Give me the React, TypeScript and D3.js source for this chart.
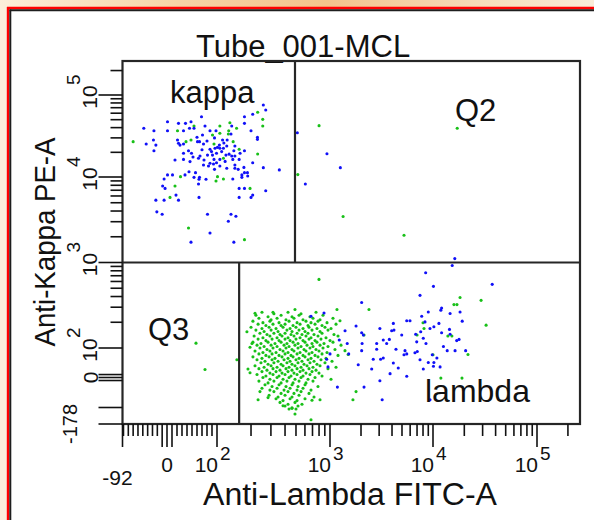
import React from "react";
import * as d3 from "d3";

const WIDTH = 594;
const HEIGHT = 520;
const FONT = "'Liberation Sans', Arial, Helvetica, sans-serif";

const TITLE = "Tube_001-MCL";
const X_LABEL = "Anti-Lambda FITC-A";
const Y_LABEL = "Anti-Kappa PE-A";

// Channel range of the biexponential display
const X_MIN = -92;
const Y_MIN = -178;
const CH_MAX = 262144;

// Quadrant gate
const GATE_PE = 1000;
const GATE_FITC_UPPER = 490;
const GATE_FITC_LOWER = 157;

// Events: [FITC, PE]
const kappaBlue: [number, number][] = [
  [257, 75500], [270, 65600], [207, 58200], [69, 54400], [175, 54400], [1, 47200], [23, 45100], [37, 45100],
  [48, 47200], [175, 45100], [76, 41900], [135, 41900], [-48, 39300], [-27, 36700], [1, 36700], [33, 36700],
  [45, 39300], [54, 39300], [86, 36700], [98, 36700], [200, 36700], [71, 32500], [133, 33400], [228, 30500],
  [228, 28800], [-28, 28300], [21, 28300], [61, 27000], [65, 27000], [112, 28300], [123, 28300], [-43, 25300],
  [-23, 24500], [23, 25800], [26, 24500], [33, 25300], [73, 25300], [105, 24500], [101, 23000], [122, 23900],
  [144, 23900], [86, 21800], [96, 22400], [106, 22400], [114, 22400], [-27, 20900], [43, 20900], [49, 19500],
  [89, 20400], [110, 20400], [141, 20900], [175, 20900], [33, 19500], [66, 18000], [81, 18500], [91, 18500],
  [99, 19500], [120, 18500], [135, 18000], [144, 18000], [16, 16100], [33, 16400], [46, 15400], [63, 16900],
  [74, 16100], [94, 16400], [106, 16400], [138, 16400], [157, 16400], [99, 14900], [86, 14700], [93, 14400],
  [73, 14000], [83, 13600], [144, 14000], [144, 12800], [154, 12400], [173, 13100], [207, 14900], [257, 13000],
  [356, 12200], [106, 13600], [44, 11600], [57, 11300], [95, 12400], [122, 12800], [175, 11300], [186, 11300],
  [187, 10300], [166, 10600], [166, 9900], [54, 9900], [65, 9900], [64, 9400], [78, 9400], [1, 10600],
  [11, 10600], [-6, 9460], [36, 10600], [138, 9460], [63, 8280], [-9, 7840], [-4, 7360], [157, 7360],
  [175, 7360], [270, 6900], [18, 6140], [64, 5770], [157, 5770], [207, 6140], [200, 5770], [-23, 5360],
  [-6, 5360], [23, 5360], [-21, 3910], [-10, 3670], [81, 3670], [133, 3670], [147, 3480], [126, 3040],
  [86, 2210], [48, 1730], [141, 1730], [60, 30500], [80, 27500], [115, 26000], [95, 30000], [128, 19000],
  [70, 21500], [52, 17500], [118, 15500], [160, 19500],
];

const kappaGreen: [number, number][] = [
  [229, 61500], [254, 50500], [130, 45900], [54, 41900], [106, 41900], [254, 41900], [149, 39300], [21, 36700],
  [127, 36700], [91, 32500], [106, 34100], [126, 33400], [-70, 27000], [38, 27000], [48, 28300], [139, 27000],
  [94, 25300], [157, 21800], [229, 19100], [114, 16900], [27, 10100], [101, 10100], [114, 9460], [98, 8980],
  [16, 7840], [196, 7360], [6, 5770], [43, 2530], [175, 1850],
];

const q2Blue: [number, number][] = [[514, 34700], [940, 19200], [1260, 13000], [605, 8280], [16200, 1110]];
const q2Green: [number, number][] = [[800, 42300], [519, 10700], [1340, 3450], [5230, 2080], [17100, 39300]];
const q3Green: [number, number][] = [[58, 114], [76, 27]];

const lambdaBlue: [number, number][] = [
  [15300, 923], [8490, 759], [10100, 526], [37100, 555], [7480, 413], [2030, 340], [12100, 294], [11900, 277],
  [9000, 264], [14600, 253], [18200, 264], [885, 257], [679, 235], [7770, 235], [5560, 208], [5980, 208],
  [8360, 202], [4120, 194], [11400, 194], [10200, 177], [9350, 169], [19100, 206], [1790, 181], [1400, 159],
  [3050, 169], [3970, 159], [4180, 162], [2030, 151], [2110, 142], [7600, 155], [12100, 151], [14400, 165],
  [14600, 145], [1230, 124], [3290, 124], [3770, 126], [4970, 142], [6790, 145], [8050, 130], [17800, 126],
  [16900, 122], [1470, 113], [2050, 113], [2840, 113], [3550, 113], [6950, 118], [8550, 113], [12600, 104],
  [13700, 91], [2030, 91], [2840, 96], [4370, 96], [5350, 91], [6680, 84], [7040, 88], [9840, 77],
  [16300, 91], [20600, 91], [1000, 80], [1520, 80], [2630, 62], [3100, 62], [3290, 66], [5230, 77],
  [5560, 80], [7480, 60], [10900, 66], [9000, 51], [10200, 51], [935, 62], [1880, 43], [2540, 29],
  [4120, 49], [4600, 32], [8050, 29], [11700, 36], [960, 36], [3050, -11], [5560, 4], [3830, 13],
  [10100, 38], [2140, -32], [1180, -32], [3210, -74], [9350, -74],
];

const lambdaGreen: [number, number][] = [
  [799, 634], [217, 255], [313, 262], [490, 282], [1169, 282], [2390, 282], [1250, 208], [184, 155],
  [150, 60], [1500, 78], [1398, 91], [1790, -47], [1670, -74], [679, -158], [490, -131], [461, -104],
  [384, -94], [231, -74], [240, -47], [283, -67], [816, -74], [693, -76], [188, 29], [196, 16],
  [204, 113], [196, 102], [18200, 389], [15900, 322], [17000, 322], [29000, 361], [32400, 185], [8000, 197],
  [8180, 169], [7000, 142], [13900, 138], [15200, 138], [21700, 78], [10000, 77], [11900, -2], [19000, -2],
  [2140, 142],
];

// Dense lambda core, listed by PE level: [PE, FITC values]
const lambdaCoreRows: [number, number[]][] = [
  [262, [250, 425, 752]], [252, [319, 554]],
  [242, [221, 369, 532, 867]], [232, [283, 461, 665]],
  [223, [235, 340, 480, 707, 1069]], [214, [301, 408, 577, 816]],
  [206, [208, 294, 434, 613, 783]], [198, [255, 354, 511, 679, 941]],
  [190, [231, 313, 400, 543, 737, 1144]], [183, [271, 369, 471, 639, 850]],
  [175, [200, 289, 384, 500, 652, 903]], [169, [250, 333, 443, 577, 767, 1023]],
  [162, [221, 301, 416, 532, 693, 960]], [156, [261, 347, 461, 601, 816]],
  [149, [240, 319, 400, 511, 639, 850]], [144, [277, 361, 452, 565, 722, 1093]],
  [138, [213, 294, 376, 480, 613, 783, 1196]], [132, [255, 340, 425, 543, 679, 922]],
  [127, [231, 307, 400, 500, 652, 832]], [122, [271, 354, 443, 577, 737, 1000]],
  [117, [208, 283, 369, 471, 601, 767, 1069]], [113, [245, 326, 416, 521, 693, 885]],
  [108, [226, 301, 392, 490, 626, 816, 1279]], [104, [261, 340, 434, 554, 707, 960]],
  [100, [240, 313, 408, 521, 665, 867]], [95, [277, 361, 461, 589, 752, 1118]],
  [90, [217, 294, 384, 480, 613, 799]], [85, [255, 333, 425, 543, 693, 941]],
  [80, [235, 307, 400, 511, 652, 850]], [75, [271, 354, 452, 577, 737, 1196]],
  [70, [208, 289, 376, 471, 601, 783]], [65, [250, 326, 425, 532, 679, 922]],
  [60, [226, 307, 392, 500, 639, 832]], [55, [266, 347, 443, 565, 722, 1046]],
  [50, [245, 319, 416, 521, 665, 903]], [45, [283, 369, 461, 589, 767]],
  [40, [217, 301, 384, 490, 626, 816]], [35, [261, 340, 434, 554, 707, 1144]],
  [30, [235, 313, 408, 511, 652, 960]], [25, [277, 361, 461, 577, 752]],
  [20, [250, 333, 425, 543, 693]], [15, [294, 376, 480, 613, 799]],
  [10, [226, 313, 400, 511, 665]], [5, [271, 354, 452, 577, 850]],
  [0, [255, 340, 434, 554, 737]], [-6, [294, 384, 490, 639, 1023]],
  [-12, [235, 319, 416, 532, 707]], [-18, [283, 369, 471, 613]],
  [-24, [266, 354, 461, 601]], [-30, [307, 408, 521, 783]],
  [-36, [250, 340, 443, 577]], [-42, [294, 392, 511, 679]],
  [-47, [319, 425, 554]], [-53, [369, 480, 652]],
  [-59, [289, 400, 532]], [-65, [347, 461, 722]],
  [-71, [333, 443, 601]], [-77, [384, 511]],
  [-83, [361, 490]], [-89, [425, 565]],
  [-95, [400, 521]], [-101, [461]],
  [-107, [434, 500]],
];

// Axis tick labels
const X_DECADE_LABELS = [2, 3, 4, 5];
const Y_DECADE_LABELS = [2, 3, 4, 5];
const X_ZERO_LABEL = "0";
const X_MIN_LABEL = "-92";
const Y_ZERO_LABEL = "0";
const Y_MIN_LABEL = "-178";

// Display transform: linear up to 100, logarithmic above
const LIN_LIMIT = 100;
const toDisplay = (v: number) => (v <= LIN_LIMIT ? v : LIN_LIMIT + 1000 * Math.log10(v / LIN_LIMIT));

const xStops = [X_MIN, 0, 100, 1e3, 1e4, 1e5, CH_MAX];
const xStopPx = [122.5, 167, 217, 330, 433, 537, 580];
const yStops = [Y_MIN, -100, 0, 100, 1e3, 1e4, 1e5, CH_MAX];
const yStopPx = [424, 407.5, 377.5, 348, 262.5, 177, 95, 61];

const xLin = d3.scaleLinear().domain(xStops.map(toDisplay)).range(xStopPx);
const yLin = d3.scaleLinear().domain(yStops.map(toDisplay)).range(yStopPx);
const xScale = (v: number) => xLin(toDisplay(v));
const yScale = (v: number) => yLin(toDisplay(v));

const LEFT = xScale(X_MIN);
const RIGHT = xScale(CH_MAX);
const TOP = yScale(CH_MAX);
const BOTTOM = yScale(Y_MIN);

const logMinor = (decades: number[]) =>
  decades.flatMap((d) => d3.range(2, 10).map((m) => m * d));

const xMinorTicks = [
  ...d3.range(-90, 100, 10).filter((v) => Math.abs(v) > 10),
  ...logMinor([1e2, 1e3, 1e4]),
  2e5,
];
const xMajorTicks = [X_MIN, -10, 0, 10, 1e2, 1e3, 1e4, 1e5];
const yMinorTicks = [...logMinor([1e2, 1e3, 1e4]), 2e5];
const yMajorTicks = [Y_MIN, -100, -10, 0, 10, 1e2, 1e3, 1e4, 1e5];

const BLUE = "#1010f8";
const GREEN = "#18c018";
const LINE = "#262626";

function Dots({ data, color }: { data: [number, number][]; color: string }) {
  return (
    <g fill={color}>
      {data.map(([fx, py], i) => (
        <circle key={i} cx={xScale(fx)} cy={yScale(py)} r={1.55} />
      ))}
    </g>
  );
}

export default function App() {
  const corePoints: [number, number][] = lambdaCoreRows.flatMap(([pe, xs]) =>
    xs.map((fx) => [fx, pe] as [number, number])
  );
  const gateY = yScale(GATE_PE);

  return (
    <svg
      width={WIDTH}
      height={HEIGHT}
      style={{ position: "absolute", left: 0, top: 0, display: "block" }}
      fontFamily={FONT}
    >
      <defs>
        <linearGradient id="frameBg" x1="0" y1="0" x2="1" y2="0">
          <stop offset="0" stopColor="#fcefda" />
          <stop offset="0.3" stopColor="#f6d3a6" />
          <stop offset="0.55" stopColor="#f3c48c" />
          <stop offset="0.8" stopColor="#f6dcb8" />
          <stop offset="1" stopColor="#f9ecd8" />
        </linearGradient>
      </defs>

      {/* window frame */}
      <rect x={0} y={0} width={WIDTH} height={HEIGHT} fill="#fbefdc" />
      <rect x={0} y={0} width={WIDTH} height={8} fill="url(#frameBg)" />
      <rect x={11} y={11} width={WIDTH - 11} height={HEIGHT - 11} fill="#ffffff" />
      <line x1={8} y1={7} x2={8} y2={HEIGHT} stroke="#ff0000" strokeWidth={2.4} />
      <line x1={7} y1={8} x2={WIDTH} y2={8} stroke="#ff0000" strokeWidth={2.4} />
      <line x1={10.3} y1={9.6} x2={10.3} y2={HEIGHT} stroke="#1e1e1e" strokeWidth={2} />
      <line x1={9.6} y1={10.3} x2={WIDTH} y2={10.3} stroke="#1e1e1e" strokeWidth={2} />

      {/* title */}
      <text x={303} y={57} textAnchor="middle" fontSize={31} fill="#111">
        {TITLE}
      </text>

      {/* events */}
      <Dots data={corePoints} color={GREEN} />
      <Dots data={lambdaGreen} color={GREEN} />
      <Dots data={kappaGreen} color={GREEN} />
      <Dots data={q2Green} color={GREEN} />
      <Dots data={q3Green} color={GREEN} />
      <Dots data={kappaBlue} color={BLUE} />
      <Dots data={lambdaBlue} color={BLUE} />
      <Dots data={q2Blue} color={BLUE} />

      {/* plot frame and quadrant gate */}
      <rect x={LEFT} y={TOP} width={RIGHT - LEFT} height={BOTTOM - TOP} fill="none" stroke={LINE} strokeWidth={2.2} />
      <line x1={LEFT} y1={gateY} x2={RIGHT} y2={gateY} stroke={LINE} strokeWidth={2.2} />
      <line x1={xScale(GATE_FITC_UPPER)} y1={TOP} x2={xScale(GATE_FITC_UPPER)} y2={gateY} stroke={LINE} strokeWidth={2.2} />
      <line x1={xScale(GATE_FITC_LOWER)} y1={gateY} x2={xScale(GATE_FITC_LOWER)} y2={BOTTOM} stroke={LINE} strokeWidth={2.2} />

      {/* quadrant names */}
      <g fontSize={31} fill="#111">
        <text x={170} y={103}>kappa</text>
        <text x={455} y={121}>Q2</text>
        <text x={148} y={340}>Q3</text>
        <text x={425} y={402} fontSize={32}>lambda</text>
      </g>

      {/* axis ticks */}
      <g stroke="#111" strokeWidth={1.6}>
        {xMinorTicks.map((v, i) => (
          <line key={"xm" + i} x1={xScale(v)} x2={xScale(v)} y1={BOTTOM} y2={BOTTOM + 12} />
        ))}
        {xMajorTicks.map((v, i) => (
          <line key={"xM" + i} x1={xScale(v)} x2={xScale(v)} y1={BOTTOM} y2={BOTTOM + 23} />
        ))}
        {yMinorTicks.map((v, i) => (
          <line key={"ym" + i} x1={LEFT - 12} x2={LEFT} y1={yScale(v)} y2={yScale(v)} />
        ))}
        {yMajorTicks.map((v, i) => (
          <line key={"yM" + i} x1={LEFT - 24} x2={LEFT} y1={yScale(v)} y2={yScale(v)} />
        ))}
      </g>

      {/* x tick labels */}
      <g fill="#111">
        <text x={xScale(0)} y={472} textAnchor="middle" fontSize={21}>
          {X_ZERO_LABEL}
        </text>
        <text x={xScale(X_MIN) - 5} y={485} textAnchor="middle" fontSize={21}>
          {X_MIN_LABEL}
        </text>
        {X_DECADE_LABELS.map((k) => {
          const tx = xScale(Math.pow(10, k));
          return (
            <g key={"xl" + k}>
              <text x={tx + 1} y={472} textAnchor="end" fontSize={21}>10</text>
              <text x={tx + 3} y={460} fontSize={19}>{k}</text>
            </g>
          );
        })}
      </g>

      {/* y tick labels (rotated) */}
      <g fill="#111">
        <text transform={`translate(98,${yScale(0)}) rotate(-90)`} textAnchor="middle" fontSize={21}>
          {Y_ZERO_LABEL}
        </text>
        <text transform={`translate(77,${yScale(Y_MIN)}) rotate(-90)`} textAnchor="middle" fontSize={20}>
          {Y_MIN_LABEL}
        </text>
        {Y_DECADE_LABELS.map((k) => {
          const ty = yScale(Math.pow(10, k));
          return (
            <g key={"yl" + k} transform={`translate(97,${ty}) rotate(-90)`}>
              <text x={-2} y={0} textAnchor="middle" fontSize={21}>10</text>
              <text x={10} y={-17} fontSize={19}>{k}</text>
            </g>
          );
        })}
      </g>

      {/* axis titles */}
      <text x={350} y={505} textAnchor="middle" fontSize={31} fill="#111" textLength={294} lengthAdjust="spacingAndGlyphs">
        {X_LABEL}
      </text>
      <text
        transform="translate(55,242) rotate(-90)"
        textAnchor="middle"
        fontSize={30}
        fill="#111"
        textLength={209}
        lengthAdjust="spacingAndGlyphs"
      >
        {Y_LABEL}
      </text>
    </svg>
  );
}
